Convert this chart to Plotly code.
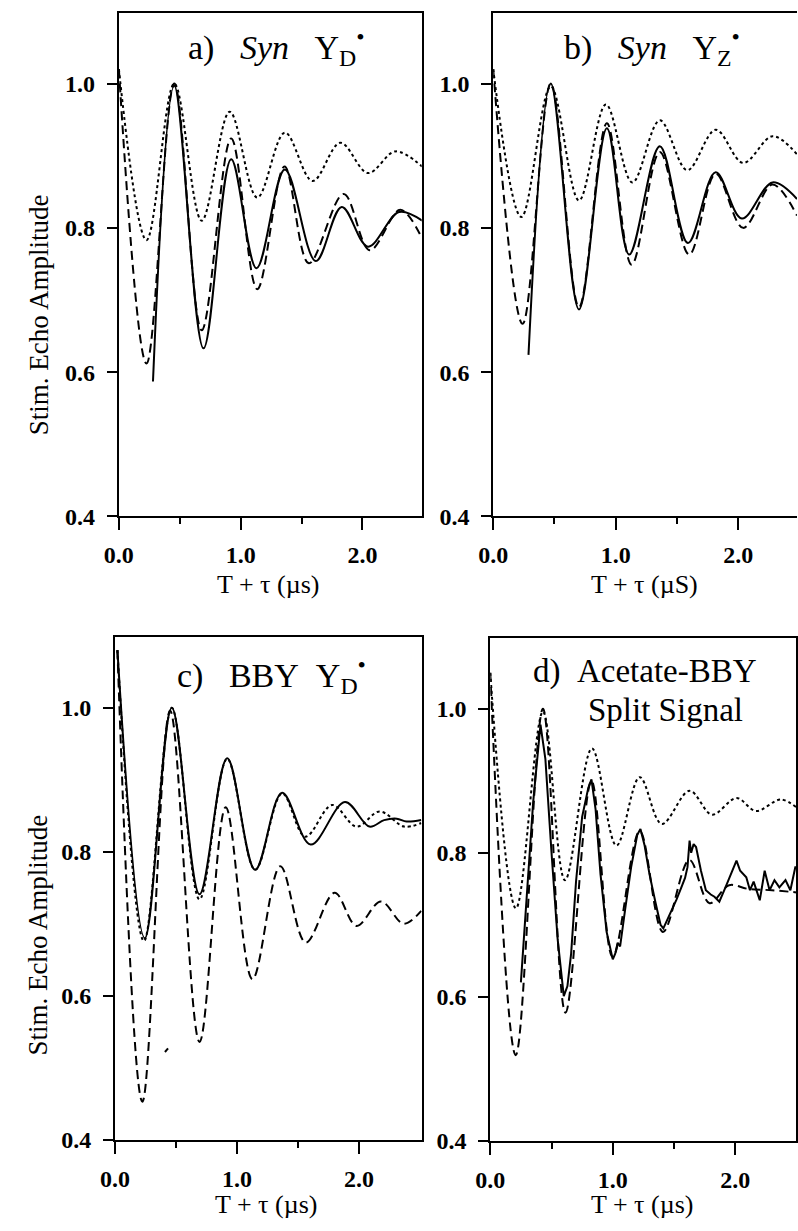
import plotly.graph_objects as go

# ---------------- data ----------------
# Panel a) Syn Y_D
a_t_dot = [0.0, 0.227, 0.455, 0.68, 0.91, 1.136, 1.363, 1.59, 1.818, 2.045, 2.27, 2.49]
a_dot = [1.02, 0.783, 1.0, 0.81, 0.961, 0.842, 0.932, 0.865, 0.918, 0.876, 0.906, 0.885]
a_t_sol = [0.28, 0.455, 0.695, 0.922, 1.13, 1.363, 1.617, 1.83, 2.045, 2.30, 2.49]
a_sol = [0.587, 0.997, 0.633, 0.895, 0.744, 0.881, 0.754, 0.829, 0.774, 0.822, 0.81]
a_t_dash = [0.0, 0.227, 0.455, 0.68, 0.922, 1.136, 1.36, 1.56, 1.845, 2.06, 2.31, 2.49]
a_dash = [1.02, 0.612, 1.0, 0.658, 0.924, 0.715, 0.885, 0.751, 0.847, 0.769, 0.825, 0.785]

# Panel b) Syn Y_Z
b_t_dot = [0.0, 0.23, 0.47, 0.70, 0.92, 1.136, 1.36, 1.584, 1.816, 2.04, 2.28, 2.48]
b_dot = [1.02, 0.815, 0.996, 0.838, 0.971, 0.863, 0.949, 0.88, 0.936, 0.89, 0.927, 0.902]
b_t_sol = [0.288, 0.47, 0.70, 0.928, 1.11, 1.36, 1.59, 1.816, 2.03, 2.28, 2.48]
b_sol = [0.624, 1.0, 0.687, 0.938, 0.763, 0.913, 0.779, 0.877, 0.813, 0.863, 0.84]
b_t_dash = [0.0, 0.24, 0.47, 0.70, 0.928, 1.13, 1.36, 1.6, 1.816, 2.04, 2.28, 2.48]
b_dash = [1.02, 0.667, 1.0, 0.69, 0.945, 0.749, 0.905, 0.763, 0.875, 0.80, 0.86, 0.817]

# Panel c) BBY Y_D
c_t_dot = [0.02, 0.238, 0.466, 0.693, 0.92, 1.149, 1.37, 1.56, 1.78, 1.98, 2.17, 2.37, 2.51]
c_dot = [1.08, 0.676, 1.0, 0.734, 0.929, 0.775, 0.881, 0.821, 0.865, 0.835, 0.856, 0.835, 0.84]
c_t_sol = [0.02, 0.245, 0.466, 0.693, 0.92, 1.149, 1.37, 1.604, 1.885, 2.086, 2.206, 2.31, 2.39, 2.51]
c_sol = [1.08, 0.68, 1.0, 0.741, 0.93, 0.775, 0.882, 0.81, 0.869, 0.835, 0.844, 0.846, 0.842, 0.844]
c_t_dash = [0.02, 0.225, 0.452, 0.693, 0.908, 1.127, 1.355, 1.564, 1.80, 1.98, 2.18, 2.366, 2.51]
c_dash = [1.08, 0.453, 0.996, 0.536, 0.862, 0.623, 0.78, 0.674, 0.743, 0.697, 0.731, 0.70, 0.718]
c_t_mark = [0.41, 0.435]
c_mark = [0.522, 0.527]

# Panel d) Acetate-BBY split signal
d_t_dot = [0.0, 0.21, 0.43, 0.61, 0.83, 1.03, 1.22, 1.40, 1.627, 1.81, 2.01, 2.17, 2.37, 2.5]
d_dot = [1.05, 0.723, 0.996, 0.762, 0.945, 0.81, 0.905, 0.84, 0.886, 0.853, 0.876, 0.858, 0.874, 0.863]
d_t_dash = [0.0, 0.208, 0.43, 0.614, 0.826, 1.0, 1.22, 1.41, 1.625, 1.79, 1.95, 2.1, 2.3, 2.5]
d_dash = [1.05, 0.519, 1.0, 0.578, 0.9, 0.655, 0.83, 0.69, 0.79, 0.73, 0.755, 0.75, 0.748, 0.745]
d_t_sol = [0.25, 0.30, 0.35, 0.41, 0.45, 0.50, 0.55, 0.60, 0.63, 0.66, 0.70, 0.75, 0.80,
           0.826, 0.86, 0.90, 0.95, 1.0, 1.02, 1.04, 1.06, 1.10, 1.15, 1.20, 1.226, 1.26,
           1.30, 1.35, 1.39, 1.413, 1.44, 1.48, 1.52, 1.56, 1.59, 1.61, 1.627, 1.64, 1.66,
           1.68, 1.70, 1.72, 1.76, 1.80, 1.83, 1.87, 1.92, 1.96, 2.01, 2.04, 2.09, 2.12,
           2.15, 2.20, 2.24, 2.28, 2.32, 2.36, 2.41, 2.45, 2.49, 2.5]
d_sol = [0.62, 0.74, 0.87, 0.978, 0.93, 0.80, 0.68, 0.601, 0.615, 0.66, 0.76, 0.85, 0.89,
         0.902, 0.86, 0.77, 0.69, 0.652, 0.66, 0.675, 0.67, 0.72, 0.78, 0.825, 0.833, 0.81,
         0.77, 0.73, 0.70, 0.695, 0.705, 0.72, 0.735, 0.752, 0.765, 0.78, 0.817, 0.80, 0.812,
         0.808, 0.79, 0.775, 0.748, 0.742, 0.739, 0.732, 0.752, 0.769, 0.789, 0.775, 0.766, 0.748,
         0.76, 0.734, 0.775, 0.748, 0.762, 0.752, 0.762, 0.748, 0.78, 0.78]

y_ticks = [0.4, 0.6, 0.8, 1.0]
y_tick_text = ["0.4", "0.6", "0.8", "1.0"]
x_ticks = [0, 1, 2]
x_tick_text = ["0.0", "1.0", "2.0"]

# ---------------- layout helpers ----------------
W, H = 798, 1231
FONT = "Liberation Serif"


def fx(p):
    return p / W


def fy(p):
    return 1 - p / H


panels = [
    dict(n="", xpx=(106, 415), ypx=(13, 522), xr=(0, 2.486), mirror_y=True),
    dict(n="2", xpx=(488, 798), ypx=(13, 522), xr=(0, 2.48), mirror_y=False),
    dict(n="3", xpx=(102, 415), ypx=(644, 1152), xr=(0, 2.514), mirror_y=True),
    dict(n="4", xpx=(485, 797), ypx=(645, 1153), xr=(0, 2.496), mirror_y=True),
]

series = [
    [(a_t_dot, a_dot, "3px,3px"), (a_t_dash, a_dash, "9px,5px"), (a_t_sol, a_sol, "solid")],
    [(b_t_dot, b_dot, "3px,3px"), (b_t_dash, b_dash, "9px,5px"), (b_t_sol, b_sol, "solid")],
    [(c_t_dot, c_dot, "3px,3px"), (c_t_dash, c_dash, "9px,5px"), (c_t_sol, c_sol, "solid"),
     (c_t_mark, c_mark, "solid")],
    [(d_t_dot, d_dot, "3px,3px"), (d_t_dash, d_dash, "9px,5px"), (d_t_sol, d_sol, "solid")],
]

fig = go.Figure()
layout = dict(
    width=W, height=H, margin=dict(l=0, r=0, t=0, b=0),
    paper_bgcolor="white", plot_bgcolor="white", showlegend=False,
    font=dict(family=FONT, color="black"),
)

TICKFONT = dict(family=FONT, size=24, color="black", weight="bold")

for p, ser in zip(panels, series):
    n = p["n"]
    for i, (t, v, dash) in enumerate(ser):
        shape = "linear" if (n == "4" and dash == "solid") else "spline"
        fig.add_trace(go.Scatter(
            x=t, y=v, mode="lines",
            line=dict(color="black", width=2, dash=dash, shape=shape, smoothing=1.0),
            xaxis="x" + n, yaxis="y" + n, hoverinfo="skip",
        ))
    layout["xaxis" + n] = dict(
        domain=[fx(p["xpx"][0]), fx(p["xpx"][1])], range=list(p["xr"]),
        anchor="y" + n, showline=True, linecolor="black", linewidth=2, mirror=True,
        ticks="outside", ticklen=12, tickwidth=2, tickcolor="black",
        tickvals=x_ticks, ticktext=x_tick_text, ticklabelstandoff=4,
        minor=dict(tickmode="array", tickvals=[0.5, 1.5], ticks="outside", ticklen=6,
                   tickwidth=2, tickcolor="black"),
        showgrid=False, zeroline=False,
        tickfont=TICKFONT,
    )
    layout["yaxis" + n] = dict(
        domain=[fy(p["ypx"][1]), fy(p["ypx"][0])], range=[0.4, 1.098],
        anchor="x" + n, showline=True, linecolor="black", linewidth=2,
        mirror=p["mirror_y"],
        ticks="outside", ticklen=10, tickwidth=2, tickcolor="black",
        tickvals=y_ticks, ticktext=y_tick_text, ticklabelstandoff=7,
        showgrid=False, zeroline=False,
        tickfont=TICKFONT,
    )

fig.update_layout(**layout)

NB = "\u00a0"
annots = [
    # panel titles
    dict(x=fx(267), y=fy(48), text=f"a){NB*3}<i>Syn</i>{NB*3}Y<sub>D</sub><sup>\u2022</sup>", size=34),
    dict(x=fx(650), y=fy(48), text=f"b){NB*3}<i>Syn</i>{NB*3}Y<sub>Z</sub><sup>\u2022</sup>", size=34),
    dict(x=fx(262), y=fy(683), text=f"c){NB*3}BBY{NB*2}Y<sub>D</sub><sup>\u2022</sup>", size=34),
    dict(x=fx(643), y=fy(679), text=f"d){NB*2}Acetate-BBY", size=33),
    dict(x=fx(664), y=fy(718), text="Split Signal", size=33),
    # x-axis titles
    dict(x=fx(258), y=fy(591), text="T + \u03c4 (\u00b5s)", size=26),
    dict(x=fx(642), y=fy(591), text="T + \u03c4 (\u00b5S)", size=26),
    dict(x=fx(256), y=fy(1217), text="T + \u03c4 (\u00b5s)", size=26),
    dict(x=fx(640), y=fy(1217), text="T + \u03c4 (\u00b5s)", size=26),
]
for a in annots:
    fig.add_annotation(x=a["x"], y=a["y"], xref="paper", yref="paper", text=a["text"],
                       showarrow=False, xanchor="center", yanchor="middle",
                       font=dict(family=FONT, size=a["size"], color="black"))

for yc in (318, 945):
    fig.add_annotation(x=fx(24), y=fy(yc), xref="paper", yref="paper",
                       text="Stim. Echo Amplitude", textangle=-90, showarrow=False,
                       xanchor="center", yanchor="middle",
                       font=dict(family=FONT, size=27, color="black"))

fig.write_html("out.html")
